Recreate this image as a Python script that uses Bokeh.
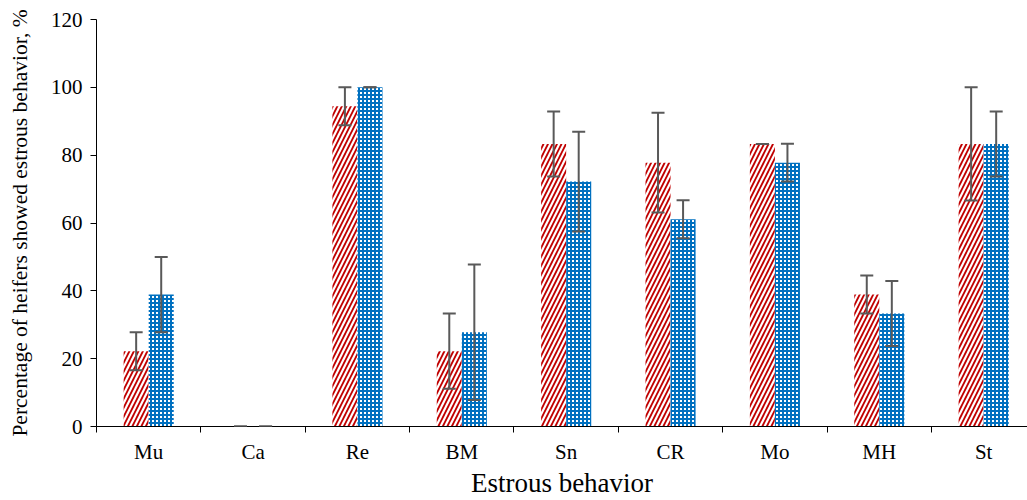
from bokeh.plotting import figure
from bokeh.models import ColumnDataSource, Range1d, FixedTicker, Whisker, TeeHead
from bokeh.embed import file_html
from bokeh.resources import INLINE

categories = ["Mu", "Ca", "Re", "BM", "Sn", "CR", "Mo", "MH", "St"]
group1 = [22.2, 0.0, 94.4, 22.2, 83.3, 77.8, 83.3, 38.9, 83.3]
group1_err = [5.6, 0.0, 5.6, 11.1, 9.6, 14.7, 0.0, 5.6, 16.7]
group2 = [38.9, 0.0, 100.0, 27.8, 72.2, 61.1, 77.8, 33.3, 83.3]
group2_err = [11.1, 0.0, 0.0, 20.0, 14.7, 5.6, 5.6, 9.6, 9.6]
y_ticks = [0, 20, 40, 60, 80, 100, 120]
x_title = "Estrous behavior"
y_title = "Percentage of heifers showed estrous behavior, %"

centers = [i + 0.5 for i in range(len(categories))]
bw = 0.24
off = 0.12

s1 = ColumnDataSource(dict(
    x=[c - off for c in centers], top=group1,
    upper=[v + e for v, e in zip(group1, group1_err)],
    lower=[v - e for v, e in zip(group1, group1_err)]))
s2 = ColumnDataSource(dict(
    x=[c + off for c in centers], top=group2,
    upper=[v + e for v, e in zip(group2, group2_err)],
    lower=[v - e for v, e in zip(group2, group2_err)]))

p = figure(width=1027, height=500, output_backend="svg", toolbar_location=None,
           x_range=Range1d(0, 8.92), y_range=Range1d(0, 120),
           min_border_left=96, min_border_right=0, min_border_top=19, min_border_bottom=73)
p.outline_line_color = None
p.grid.visible = False
p.background_fill_color = "white"

p.vbar(x="x", top="top", bottom=0, width=bw, source=s1,
       fill_color="white", line_color=None,
       hatch_pattern="/", hatch_color="#C00000", hatch_weight=1.8, hatch_scale=9)
p.vbar(x="x", top="top", bottom=0, width=bw, source=s2,
       fill_color="white", line_color=None,
       hatch_pattern="+", hatch_color="#0070C0", hatch_weight=2.0, hatch_scale=4)

for src in (s1, s2):
    w = Whisker(base="x", upper="upper", lower="lower", source=src, dimension="height",
                line_color="#595959", line_width=2, level="overlay",
                upper_head=TeeHead(size=13, line_color="#595959", line_width=2),
                lower_head=TeeHead(size=13, line_color="#595959", line_width=2))
    p.add_layout(w)

font = "Liberation Serif"
xa = p.xaxis[0]
xa.ticker = FixedTicker(ticks=centers, minor_ticks=list(range(0, 10)))
xa.major_label_overrides = {c: n for c, n in zip(centers, categories)}
xa.major_tick_out = 0
xa.major_tick_in = 0
xa.minor_tick_out = 6
xa.minor_tick_in = 0
xa.minor_tick_line_color = "black"
xa.axis_line_color = "black"
xa.major_label_text_font = font
xa.major_label_text_font_size = "21px"
xa.major_label_text_color = "black"
xa.major_label_standoff = 7
xa.axis_label = x_title
xa.axis_label_text_font = font
xa.axis_label_text_font_size = "27px"
xa.axis_label_text_font_style = "normal"
xa.axis_label_text_color = "black"
xa.axis_label_standoff = 1

ya = p.yaxis[0]
ya.ticker = FixedTicker(ticks=y_ticks, minor_ticks=[])
ya.major_tick_out = 6
ya.major_tick_in = 0
ya.major_tick_line_color = "black"
ya.minor_tick_out = 0
ya.axis_line_color = "black"
ya.major_label_text_font = font
ya.major_label_text_font_size = "21px"
ya.major_label_text_color = "black"
ya.major_label_standoff = 8
ya.axis_label = y_title
ya.axis_label_text_font = font
ya.axis_label_text_font_size = "21.5px"
ya.axis_label_text_font_style = "normal"
ya.axis_label_text_color = "black"
ya.axis_label_standoff = 16

open("out.html", "w").write(file_html(p, INLINE))
